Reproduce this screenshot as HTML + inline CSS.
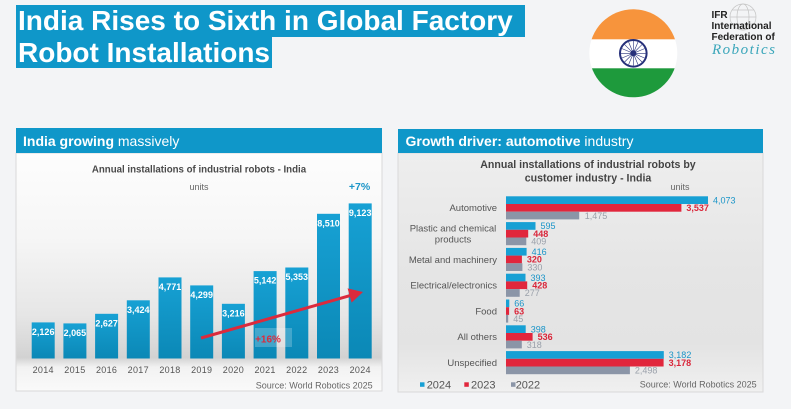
<!DOCTYPE html>
<html><head><meta charset="utf-8"><style>
html,body{margin:0;padding:0;background:#f3f4f6;}
svg{display:block;font-family:"Liberation Sans",Arial,sans-serif;}
</style></head><body>
<svg width="791" height="409" viewBox="0 0 791 409" xmlns="http://www.w3.org/2000/svg">
<defs>
<linearGradient id="lbg" x1="0" y1="0" x2="0" y2="1">
<stop offset="0" stop-color="#fdfdfd"/>
<stop offset="0.35" stop-color="#f6f6f6"/>
<stop offset="0.68" stop-color="#e6e6e6"/>
<stop offset="0.80" stop-color="#d9d9d9"/>
<stop offset="0.86" stop-color="#d2d2d2"/>
<stop offset="0.90" stop-color="#f2f2f2"/>
<stop offset="1" stop-color="#fafafa"/>
</linearGradient>
<linearGradient id="rbg" x1="0" y1="0" x2="0" y2="1">
<stop offset="0" stop-color="#eeeeee"/>
<stop offset="0.5" stop-color="#e5e5e5"/>
<stop offset="0.8" stop-color="#e3e3e3"/>
<stop offset="1" stop-color="#f0f0f0"/>
</linearGradient>
<linearGradient id="bar" x1="0" y1="0" x2="0" y2="1">
<stop offset="0" stop-color="#17a1d4"/>
<stop offset="1" stop-color="#0b88b6"/>
</linearGradient>
<clipPath id="fc"><circle cx="633.3" cy="53.3" r="44"/></clipPath>
</defs>

<rect width="791" height="409" fill="#f3f4f6"/>

<!-- Title -->
<rect x="16" y="5" width="509" height="32" fill="#0f97c9"/>
<rect x="16" y="37" width="256" height="31" fill="#0f97c9"/>
<text x="18" y="30" font-size="28" font-weight="bold" fill="#fff">India Rises to Sixth in Global Factory</text>
<text x="18" y="62" font-size="28" font-weight="bold" fill="#fff">Robot Installations</text>

<!-- Flag -->
<g clip-path="url(#fc)">
<rect x="589" y="9" width="89" height="30.5" fill="#f7943c"/>
<rect x="589" y="39.3" width="89" height="29" fill="#ffffff"/>
<rect x="589" y="68.3" width="89" height="30" fill="#1e9a3c"/>
</g>
<circle cx="633.3" cy="53.3" r="13.3" fill="none" stroke="#26307a" stroke-width="2"/>
<g stroke="#26307a" stroke-width="0.6">
<line x1="621" y1="53.3" x2="645.6" y2="53.3"/>
<line x1="633.3" y1="41" x2="633.3" y2="65.6"/>
<line x1="624.6" y1="44.6" x2="642" y2="62"/>
<line x1="642" y1="44.6" x2="624.6" y2="62"/>
<line x1="622" y1="48.6" x2="644.6" y2="58"/>
<line x1="622" y1="58" x2="644.6" y2="48.6"/>
<line x1="628.6" y1="42" x2="638" y2="64.6"/>
<line x1="638" y1="42" x2="628.6" y2="64.6"/>
</g>
<circle cx="633.3" cy="53.3" r="3" fill="#26307a"/>

<!-- IFR logo -->
<g fill="none" stroke="#c4c4c4" stroke-width="0.7">
<circle cx="743" cy="17" r="13"/>
<ellipse cx="743" cy="17" rx="6" ry="13"/>
<line x1="730" y1="17" x2="756" y2="17"/>
<line x1="732" y1="10" x2="754" y2="10"/>
<line x1="732" y1="24" x2="754" y2="24"/>
</g>
<text x="711.5" y="18" font-size="10" font-weight="bold" fill="#222">IFR</text>
<text x="711.5" y="29" font-size="10" font-weight="bold" fill="#222">International</text>
<text x="711.5" y="40" font-size="10" font-weight="bold" fill="#222">Federation of</text>
<text x="712" y="54" font-size="15" font-style="italic" fill="#3aa6ba" font-family="Liberation Serif, serif" letter-spacing="1.5">Robotics</text>

<!-- Left panel -->
<rect x="16" y="153" width="366" height="238" fill="url(#lbg)" stroke="#d9d9d9" stroke-width="1"/>
<rect x="16" y="128" width="366" height="25" fill="#0f97c9"/>
<text x="23" y="146" font-size="14" fill="#fff"><tspan font-weight="bold">India growing </tspan><tspan>massively</tspan></text>
<text x="199" y="172.5" font-size="9.7" font-weight="bold" fill="#4a4a4a" text-anchor="middle">Annual installations of industrial robots - India</text>
<text x="199" y="190" font-size="9" fill="#666" text-anchor="middle">units</text>
<text x="359.5" y="190" font-size="10.5" font-weight="bold" fill="#1b95c8" text-anchor="middle">+7%</text>

<g id="lbars" font-size="9" font-weight="bold" fill="#fff" text-anchor="middle">
<rect x="31.7" y="322.4" width="23" height="36.1" fill="url(#bar)"/>
<rect x="63.4" y="323.4" width="23" height="35.1" fill="url(#bar)"/>
<rect x="95.1" y="313.8" width="23" height="44.7" fill="url(#bar)"/>
<rect x="126.8" y="300.3" width="23" height="58.2" fill="url(#bar)"/>
<rect x="158.5" y="277.4" width="23" height="81.1" fill="url(#bar)"/>
<rect x="190.2" y="285.4" width="23" height="73.1" fill="url(#bar)"/>
<rect x="221.9" y="303.8" width="23" height="54.7" fill="url(#bar)"/>
<rect x="253.6" y="271.1" width="23" height="87.4" fill="url(#bar)"/>
<rect x="285.3" y="267.5" width="23" height="91.0" fill="url(#bar)"/>
<rect x="317.0" y="213.8" width="23" height="144.7" fill="url(#bar)"/>
<rect x="348.7" y="203.4" width="23" height="155.1" fill="url(#bar)"/>
<text x="43.2" y="335">2,126</text>
<text x="74.9" y="336">2,065</text>
<text x="106.6" y="326.4">2,627</text>
<text x="138.3" y="312.9">3,424</text>
<text x="170.0" y="290">4,771</text>
<text x="201.7" y="298">4,299</text>
<text x="233.4" y="316.4">3,216</text>
<text x="265.1" y="283.7">5,142</text>
<text x="296.8" y="280.1">5,353</text>
<text x="328.5" y="226.4">8,510</text>
<text x="360.2" y="216">9,123</text>
</g>

<rect x="255" y="328" width="37" height="19" fill="#ffffff" opacity="0.22"/>
<text x="268" y="342.5" font-size="10" font-weight="bold" fill="#dc2a3c" text-anchor="middle">+16%</text>
<line x1="201" y1="338" x2="351" y2="295.3" stroke="#dc2a3c" stroke-width="3"/>
<polygon points="363,292 351.6,302.6 347.6,288.4" fill="#dc2a3c"/>

<g font-size="9" fill="#555" text-anchor="middle" letter-spacing="0.3">
<text x="43.2" y="373">2014</text>
<text x="74.9" y="373">2015</text>
<text x="106.6" y="373">2016</text>
<text x="138.3" y="373">2017</text>
<text x="170.0" y="373">2018</text>
<text x="201.7" y="373">2019</text>
<text x="233.4" y="373">2020</text>
<text x="265.1" y="373">2021</text>
<text x="296.8" y="373">2022</text>
<text x="328.5" y="373">2023</text>
<text x="360.2" y="373">2024</text>
</g>
<text x="372.7" y="388.5" font-size="9" fill="#666" text-anchor="end">Source: World Robotics 2025</text>

<!-- Right panel -->
<rect x="398" y="153" width="365" height="239" fill="url(#rbg)" stroke="#d9d9d9" stroke-width="1"/>
<rect x="398" y="129" width="365" height="24" fill="#0f97c9"/>
<text x="405.5" y="146" font-size="14" fill="#fff"><tspan font-weight="bold">Growth driver: automotive </tspan><tspan>industry</tspan></text>
<text x="588" y="167.8" font-size="10.6" font-weight="bold" fill="#444" text-anchor="middle">Annual installations of industrial robots by</text>
<text x="588" y="181.5" font-size="10.6" font-weight="bold" fill="#444" text-anchor="middle">customer industry - India</text>
<text x="680" y="190" font-size="9" fill="#666" text-anchor="middle">units</text>

<g id="rbars">
<!-- Automotive top 196.3 -->
<rect x="506" y="196.3" width="202.0" height="7.7" fill="#17a0d4"/>
<rect x="506" y="204.0" width="175.4" height="7.7" fill="#e1263c"/>
<rect x="506" y="211.7" width="73.2" height="7.7" fill="#8b95a7"/>
<!-- Plastic 222.1 -->
<rect x="506" y="222.1" width="29.5" height="7.7" fill="#17a0d4"/>
<rect x="506" y="229.8" width="22.2" height="7.7" fill="#e1263c"/>
<rect x="506" y="237.5" width="20.3" height="7.7" fill="#8b95a7"/>
<!-- Metal 247.9 -->
<rect x="506" y="247.9" width="20.6" height="7.7" fill="#17a0d4"/>
<rect x="506" y="255.6" width="15.9" height="7.7" fill="#e1263c"/>
<rect x="506" y="263.3" width="16.4" height="7.7" fill="#8b95a7"/>
<!-- Electrical 273.7 -->
<rect x="506" y="273.7" width="19.5" height="7.7" fill="#17a0d4"/>
<rect x="506" y="281.4" width="21.2" height="7.7" fill="#e1263c"/>
<rect x="506" y="289.1" width="13.7" height="7.7" fill="#8b95a7"/>
<!-- Food 299.5 -->
<rect x="506" y="299.5" width="3.3" height="7.7" fill="#17a0d4"/>
<rect x="506" y="307.2" width="3.1" height="7.7" fill="#e1263c"/>
<rect x="506" y="314.9" width="2.2" height="7.7" fill="#8b95a7"/>
<!-- All others 325.3 -->
<rect x="506" y="325.3" width="19.7" height="7.7" fill="#17a0d4"/>
<rect x="506" y="333.0" width="26.6" height="7.7" fill="#e1263c"/>
<rect x="506" y="340.7" width="15.8" height="7.7" fill="#8b95a7"/>
<!-- Unspecified 351.1 -->
<rect x="506" y="351.1" width="157.8" height="7.7" fill="#17a0d4"/>
<rect x="506" y="358.8" width="157.6" height="7.7" fill="#e1263c"/>
<rect x="506" y="366.5" width="123.9" height="7.7" fill="#8b95a7"/>
</g>

<g font-size="9">
<text x="713" y="203.4" fill="#1b95c8">4,073</text>
<text x="686.4" y="211.1" fill="#d9263a" font-weight="bold">3,537</text>
<text x="584.7" y="218.8" fill="#9aa0aa">1,475</text>

<text x="540.5" y="229.2" fill="#1b95c8">595</text>
<text x="533.2" y="236.9" fill="#d9263a" font-weight="bold">448</text>
<text x="531.3" y="244.6" fill="#9aa0aa">409</text>

<text x="531.6" y="255" fill="#1b95c8">416</text>
<text x="526.9" y="262.7" fill="#d9263a" font-weight="bold">320</text>
<text x="527.4" y="270.4" fill="#9aa0aa">330</text>

<text x="530.5" y="280.8" fill="#1b95c8">393</text>
<text x="532.2" y="288.5" fill="#d9263a" font-weight="bold">428</text>
<text x="524.7" y="296.2" fill="#9aa0aa">277</text>

<text x="514.3" y="306.6" fill="#1b95c8">66</text>
<text x="514.1" y="314.3" fill="#d9263a" font-weight="bold">63</text>
<text x="513.2" y="322" fill="#9aa0aa">45</text>

<text x="530.7" y="332.4" fill="#1b95c8">398</text>
<text x="537.6" y="340.1" fill="#d9263a" font-weight="bold">536</text>
<text x="526.8" y="347.8" fill="#9aa0aa">318</text>

<text x="668.8" y="358.2" fill="#1b95c8">3,182</text>
<text x="668.6" y="365.9" fill="#d9263a" font-weight="bold">3,178</text>
<text x="634.9" y="373.6" fill="#9aa0aa">2,498</text>
</g>

<g font-size="9.5" fill="#555" text-anchor="end">
<text x="497" y="211.2">Automotive</text>
<text x="453" y="231.5" text-anchor="middle">Plastic and chemical</text>
<text x="453" y="242.3" text-anchor="middle">products</text>
<text x="497" y="262.8">Metal and machinery</text>
<text x="497" y="288.6">Electrical/electronics</text>
<text x="497" y="314.4">Food</text>
<text x="497" y="340.2">All others</text>
<text x="497" y="366">Unspecified</text>
</g>

<rect x="420" y="382.3" width="4.5" height="4.5" fill="#17a0d4"/>
<text x="426.7" y="388.3" font-size="11" fill="#555">2024</text>
<rect x="464.3" y="382.3" width="4.5" height="4.5" fill="#e1263c"/>
<text x="471" y="388.3" font-size="11" fill="#555">2023</text>
<rect x="511" y="382.3" width="4.5" height="4.5" fill="#8b95a7"/>
<text x="515.7" y="388.3" font-size="11" fill="#555">2022</text>
<text x="756.7" y="387.5" font-size="9" fill="#666" text-anchor="end">Source: World Robotics 2025</text>
</svg>
</body></html>
